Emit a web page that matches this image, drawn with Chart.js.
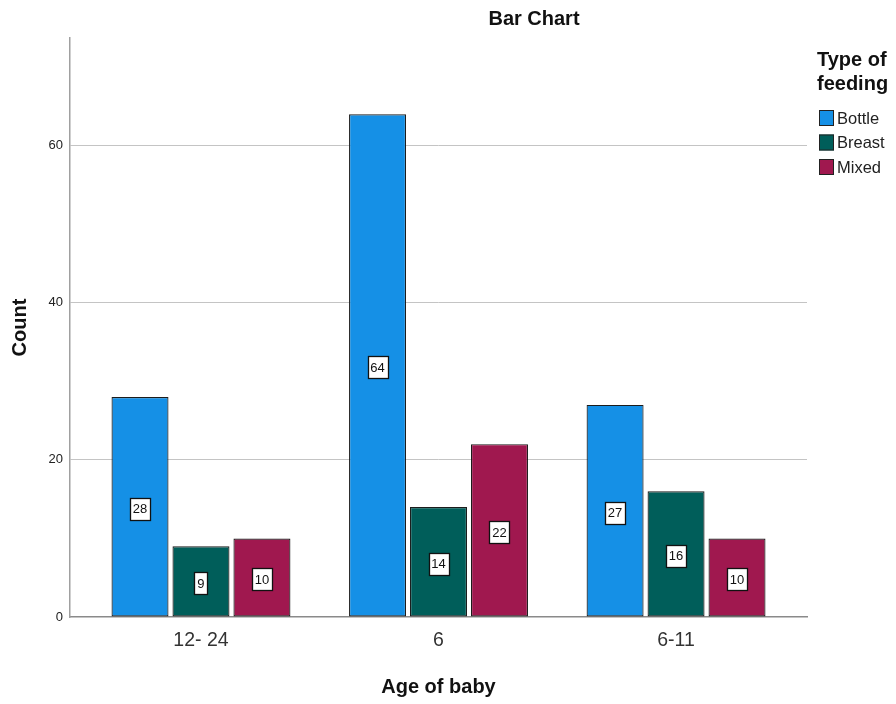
<!DOCTYPE html>
<html>
<head>
<meta charset="utf-8">
<script src="https://cdn.jsdelivr.net/npm/chart.js@4/dist/chart.umd.min.js"></script>
<style>
  html, body { margin: 0; padding: 0; background: #fff; }
  #wrap { width: 896px; height: 704px; }
</style>
</head>
<body>
<div id="wrap"><canvas id="c" width="896" height="704"></canvas></div>
<script>
const ageGroups = ['12- 24', '6', '6-11'];
const bottle = [28, 64, 27];
const breast = [9, 14, 16];
const mixed = [10, 22, 10];
const feedingTypes = ['Bottle', 'Breast', 'Mixed'];
const yTicks = [0, 20, 40, 60];
const yMax = 73.7;

const FONT = '"Liberation Sans", Arial, sans-serif';
const fills = ['#1590E6', '#005E5A', '#A0184F'];

// Count labels boxed in the middle of each bar
const barLabels = {
  id: 'barLabels',
  afterDatasetsDraw(chart) {
    const ctx = chart.ctx;
    ctx.save();
    ctx.font = '13px ' + FONT;
    ctx.textAlign = 'center';
    ctx.textBaseline = 'middle';
    chart.data.datasets.forEach((ds, di) => {
      chart.getDatasetMeta(di).data.forEach((bar, i) => {
        const txt = String(ds.data[i]);
        const cx = bar.x;
        const cy = (bar.y + bar.base) / 2 + 2;
        const w = Math.round(ctx.measureText(txt).width + 6);
        const h = 22;
        const x0 = Math.round(cx - w / 2) + 0.5;
        const y0 = Math.round(cy - h / 2) + 0.5;
        ctx.fillStyle = '#ffffff';
        ctx.fillRect(x0, y0, w, h);
        ctx.strokeStyle = '#111';
        ctx.lineWidth = 1.3;
        ctx.strokeRect(x0, y0, w, h);
        ctx.fillStyle = '#111';
        ctx.fillText(txt, cx, cy + 1);
      });
    });
    ctx.restore();
  }
};

// Heading and the legend block on the right
const decorations = {
  id: 'decorations',
  afterDraw(chart) {
    const ctx = chart.ctx;
    const area = chart.chartArea;
    ctx.save();
    ctx.fillStyle = '#111';
    ctx.textBaseline = 'middle';
    ctx.textAlign = 'center';
    ctx.font = 'bold 20px ' + FONT;
    ctx.fillText('Bar Chart', area.left + 464, 19);

    const lx = area.right + 10;
    ctx.textAlign = 'left';
    ctx.font = 'bold 20px ' + FONT;
    ctx.fillText('Type of', lx, 60);
    ctx.fillText('feeding', lx, 84);

    ctx.font = '16.5px ' + FONT;
    chart.data.datasets.forEach((ds, i) => {
      const y = 118 + i * 24.5;
      ctx.fillStyle = ds.backgroundColor;
      ctx.fillRect(lx + 2, y - 8, 15, 16);
      ctx.strokeStyle = '#222';
      ctx.lineWidth = 1;
      ctx.strokeRect(lx + 2.5, y - 7.5, 14, 15);
      ctx.fillStyle = '#222';
      ctx.fillText(ds.label, lx + 20, y + 1);
    });
    ctx.restore();
  }
};

const datasets = [bottle, breast, mixed].map((vals, i) => ({
  label: feedingTypes[i],
  data: vals,
  backgroundColor: fills[i],
  borderColor: '#1c1c1c',
  borderWidth: 1.2,
  borderSkipped: false,
  categoryPercentage: 0.77,
  barPercentage: 0.935
}));

new Chart(document.getElementById('c'), {
  type: 'bar',
  data: { labels: ageGroups, datasets },
  plugins: [barLabels, decorations],
  options: {
    responsive: false,
    animation: false,
    layout: { padding: { top: 38, right: 89, left: 0, bottom: 0 } },
    plugins: {
      legend: { display: false },
      title: { display: false },
      tooltip: { enabled: false }
    },
    scales: {
      x: {
        offset: true,
        grid: { display: false, drawTicks: false },
        border: { display: true, color: '#8a8a8a', width: 1.5 },
        ticks: { color: '#333', font: { family: FONT, size: 19.5 }, padding: 12 },
        title: { display: true, text: 'Age of baby', color: '#111',
                 font: { family: FONT, size: 20, weight: 'bold' }, padding: { top: 0, bottom: 5 } },
        afterBuildTicks(scale) {
          scale._startValue = -0.5514;
          scale._valueRange = 3.1027;
        },
        afterFit(scale) { scale.height = 87; }
      },
      y: {
        min: 0,
        max: yMax,
        grid: {
          drawTicks: false,
          color: (c) => (c.tick && c.tick.value > 0 && c.tick.value < yMax) ? '#c4c4c4' : 'rgba(0,0,0,0)',
          lineWidth: 1
        },
        border: { display: true, color: '#a0a0a0', width: 1.5 },
        ticks: { color: '#222', font: { family: FONT, size: 13 }, padding: 7 },
        afterBuildTicks(scale) {
          scale.ticks = yTicks.map(v => ({ value: v }));
        },
        title: { display: true, text: 'Count', color: '#111',
                 font: { family: FONT, size: 20, weight: 'bold' }, padding: { top: 8, bottom: 0 } },
        afterFit(scale) { scale.width = 70; }
      }
    }
  }
});
</script>
</body>
</html>
